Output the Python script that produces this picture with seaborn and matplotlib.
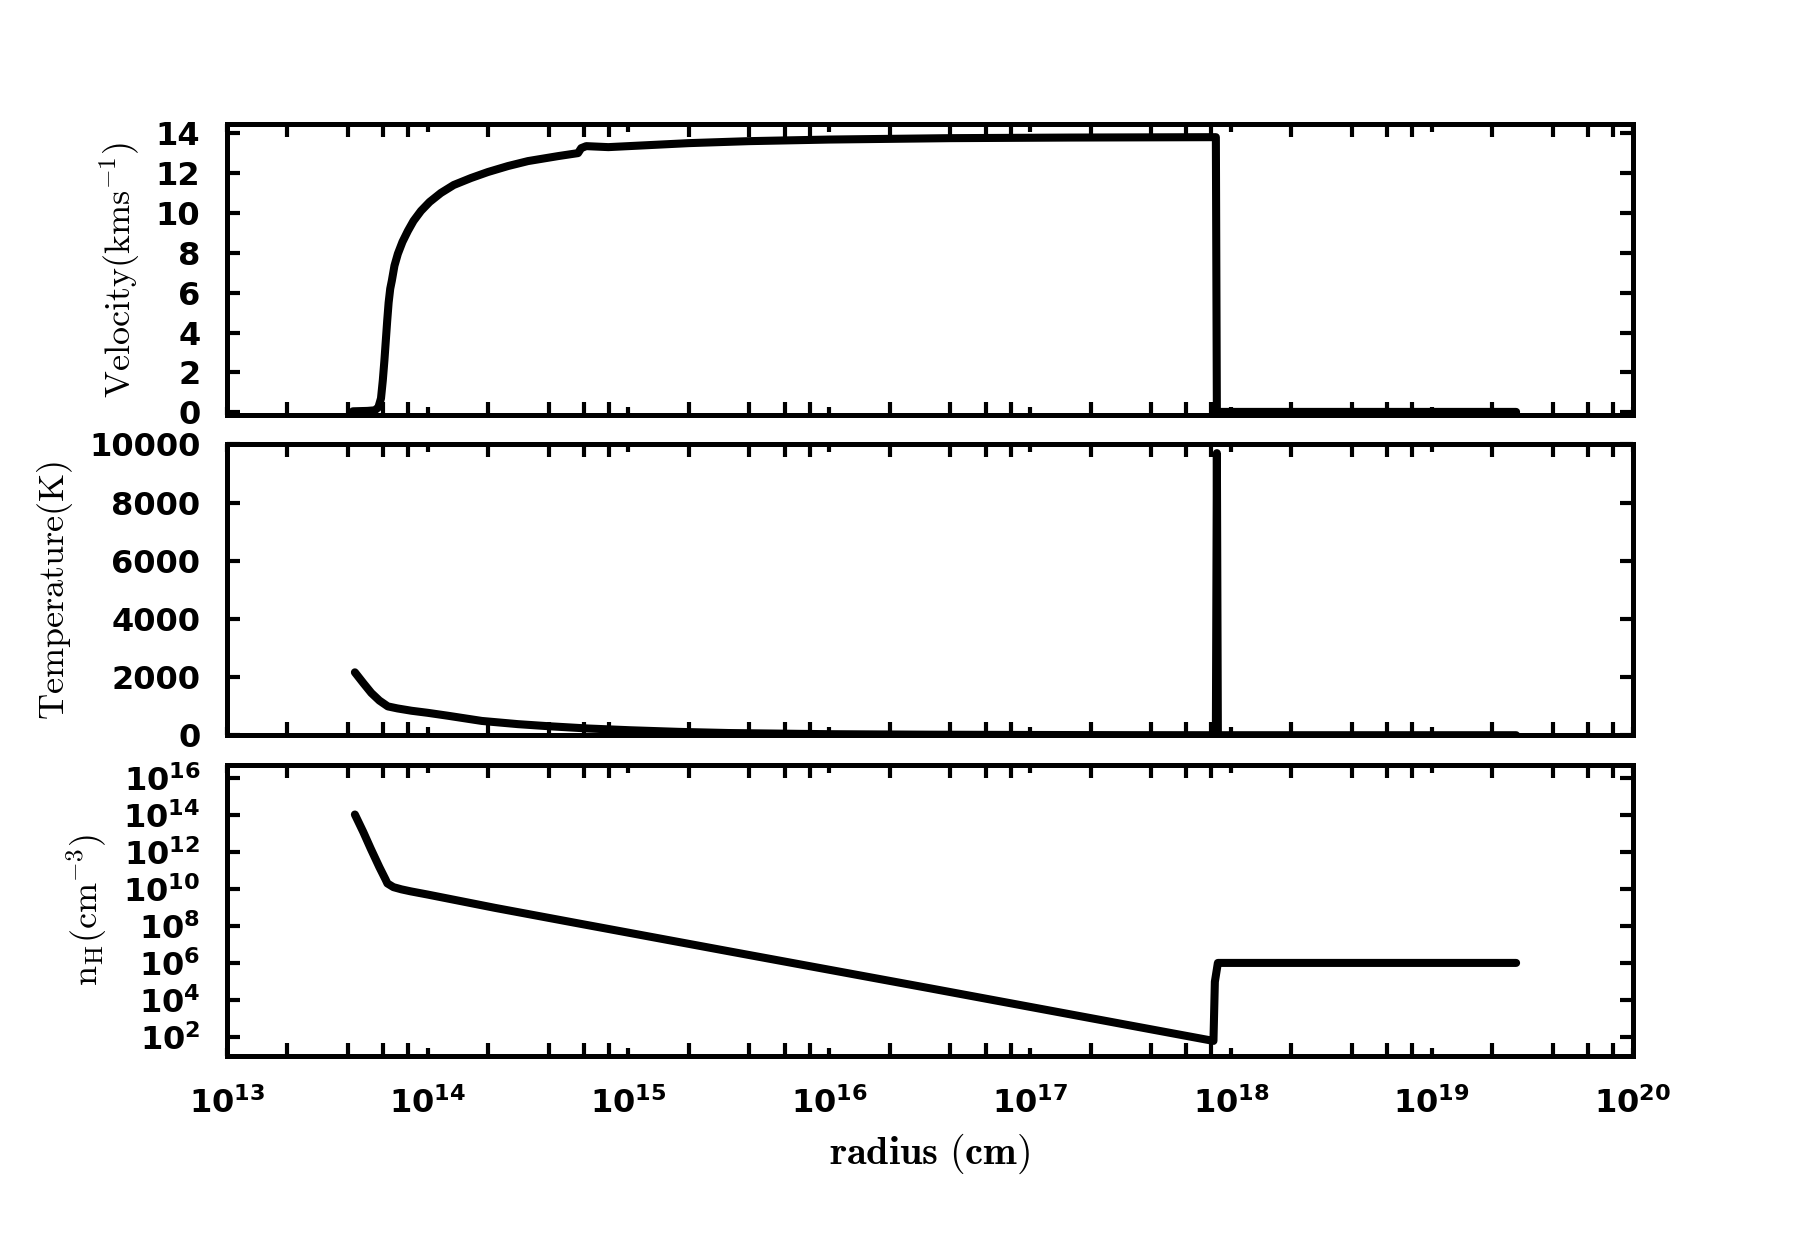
import numpy as np
import matplotlib
matplotlib.use("Agg")
import matplotlib.pyplot as plt
import matplotlib.ticker as mticker
import seaborn as sns

# values; radius given as log10(r / cm)
vel_logr = [13.628, 13.70, 13.737, 13.755, 13.768, 13.777, 13.785, 13.792, 13.799,
            13.806, 13.814, 13.822, 13.835, 13.852, 13.875, 13.902, 13.93, 13.967,
            14.01, 14.066, 14.13, 14.216, 14.30, 14.40, 14.50, 14.65, 14.749, 14.765,
            14.79, 14.90, 15.0, 15.3, 15.6, 16.0, 16.6, 17.2, 17.925, 17.93, 18.5,
            19.0, 19.42]
vel_kms = [0.05, 0.07, 0.1, 0.25, 0.7, 1.6, 2.6, 3.6, 4.6,
           5.5, 6.2, 6.6, 7.35, 7.95, 8.55, 9.1, 9.6, 10.1,
           10.55, 11.0, 11.4, 11.75, 12.05, 12.35, 12.6, 12.85, 13.0, 13.25,
           13.35, 13.3, 13.35, 13.5, 13.6, 13.68, 13.75, 13.78, 13.8, 0.02, 0.02,
           0.02, 0.02]

temp_logr = [13.638, 13.68, 13.72, 13.76, 13.802, 13.85, 13.92, 14.0, 14.1, 14.27,
             14.45, 14.60, 14.8, 15.01, 15.25, 15.5, 16.0, 16.5, 17.0, 17.5,
             17.925, 17.93, 17.935, 18.5, 19.0, 19.42]
temp_k = [2170, 1800, 1460, 1200, 1000, 930, 850, 780, 680, 500,
          390, 320, 240, 180, 125, 85, 45, 28, 18, 12,
          10, 9700, 10, 10, 10, 10]

dens_logr = [13.638, 13.68, 13.717, 13.76, 13.79, 13.80, 13.83, 13.87, 13.917,
             14.0, 14.335, 14.73, 15.5, 16.5, 17.913, 17.92, 17.935, 18.5, 19.0,
             19.42]
dens_logn = [14.05, 13.1, 12.2, 11.2, 10.55, 10.32, 10.12, 10.0, 9.89,
             9.72, 9.0, 8.2, 6.65, 4.65, 1.8, 5.0, 6.02, 6.02, 6.02,
             6.02]

sns.set_style("ticks")
plt.rcParams.update({
    "font.family": ["DejaVu Sans"],
    "font.weight": "bold",
    "font.size": 23,
    "mathtext.fontset": "dejavusans",
    "axes.linewidth": 3.6,
    "axes.edgecolor": "black",
    "text.color": "black",
    "axes.labelcolor": "black",
    "xtick.color": "black",
    "ytick.color": "black",
})

fig, axes = plt.subplots(3, 1, figsize=(18.14, 12.42), dpi=100, sharex=True)
fig.subplots_adjust(left=0.125, right=0.9, top=0.9, bottom=0.15, hspace=0.1)

line_kw = dict(color="black", linewidth=5.8, estimator=None, sort=False)
sns.lineplot(x=10 ** np.array(vel_logr), y=vel_kms, ax=axes[0], **line_kw)
sns.lineplot(x=10 ** np.array(temp_logr), y=temp_k, ax=axes[1], **line_kw)
sns.lineplot(x=10 ** np.array(dens_logr), y=10 ** np.array(dens_logn), ax=axes[2], **line_kw)

pow_fmt = mticker.FuncFormatter(lambda v, p: r"$\mathbf{10^{%d}}$" % round(np.log10(v)))

for ax in axes:
    ax.set_xscale("log")
    ax.set_xlim(1e13, 1e20)
    ax.xaxis.set_major_locator(mticker.LogLocator(base=10, numticks=20))
    ax.xaxis.set_minor_locator(mticker.LogLocator(base=10, subs=(2, 4, 6, 8), numticks=20))
    ax.xaxis.set_major_formatter(pow_fmt)
    ax.xaxis.set_minor_formatter(mticker.NullFormatter())
    ax.tick_params(which="both", direction="in", top=True, right=True, width=3,
                   color="black", labelcolor="black")
    ax.tick_params(axis="y", pad=19)
    ax.tick_params(axis="x", which="both", pad=23)
    ax.tick_params(axis="x", which="major", length=6)
    ax.tick_params(axis="x", which="minor", length=9.5)
    ax.tick_params(axis="y", which="major", length=9.5)

axes[0].set_ylim(-0.15, 14.45)
axes[0].set_yticks(range(0, 15, 2))
axes[1].set_ylim(0, 10000)
axes[1].set_yticks(range(0, 10001, 2000))
axes[2].set_yscale("log")
axes[2].set_ylim(10, 10 ** 16.75)
axes[2].yaxis.set_major_locator(mticker.FixedLocator([10.0 ** k for k in range(2, 17, 2)]))
axes[2].yaxis.set_minor_locator(mticker.NullLocator())
axes[2].yaxis.set_major_formatter(pow_fmt)

lab_kw = dict(math_fontfamily="cm", fontsize=26, fontweight="normal", labelpad=10,
              color="black")
axes[0].set_ylabel(r"$\mathrm{Velocity(km s^{-1})}$", **lab_kw)
axes[1].set_ylabel(r"$\mathrm{Temperature(K)}$", **lab_kw)
axes[2].set_ylabel(r"$\mathrm{n_H(cm^{-3})}$", **lab_kw)
axes[2].set_xlabel(r"$\mathbf{radius\ (cm)}$", math_fontfamily="cm", fontsize=29,
                   labelpad=8, color="black")

fig.savefig("out.png", dpi=100)
